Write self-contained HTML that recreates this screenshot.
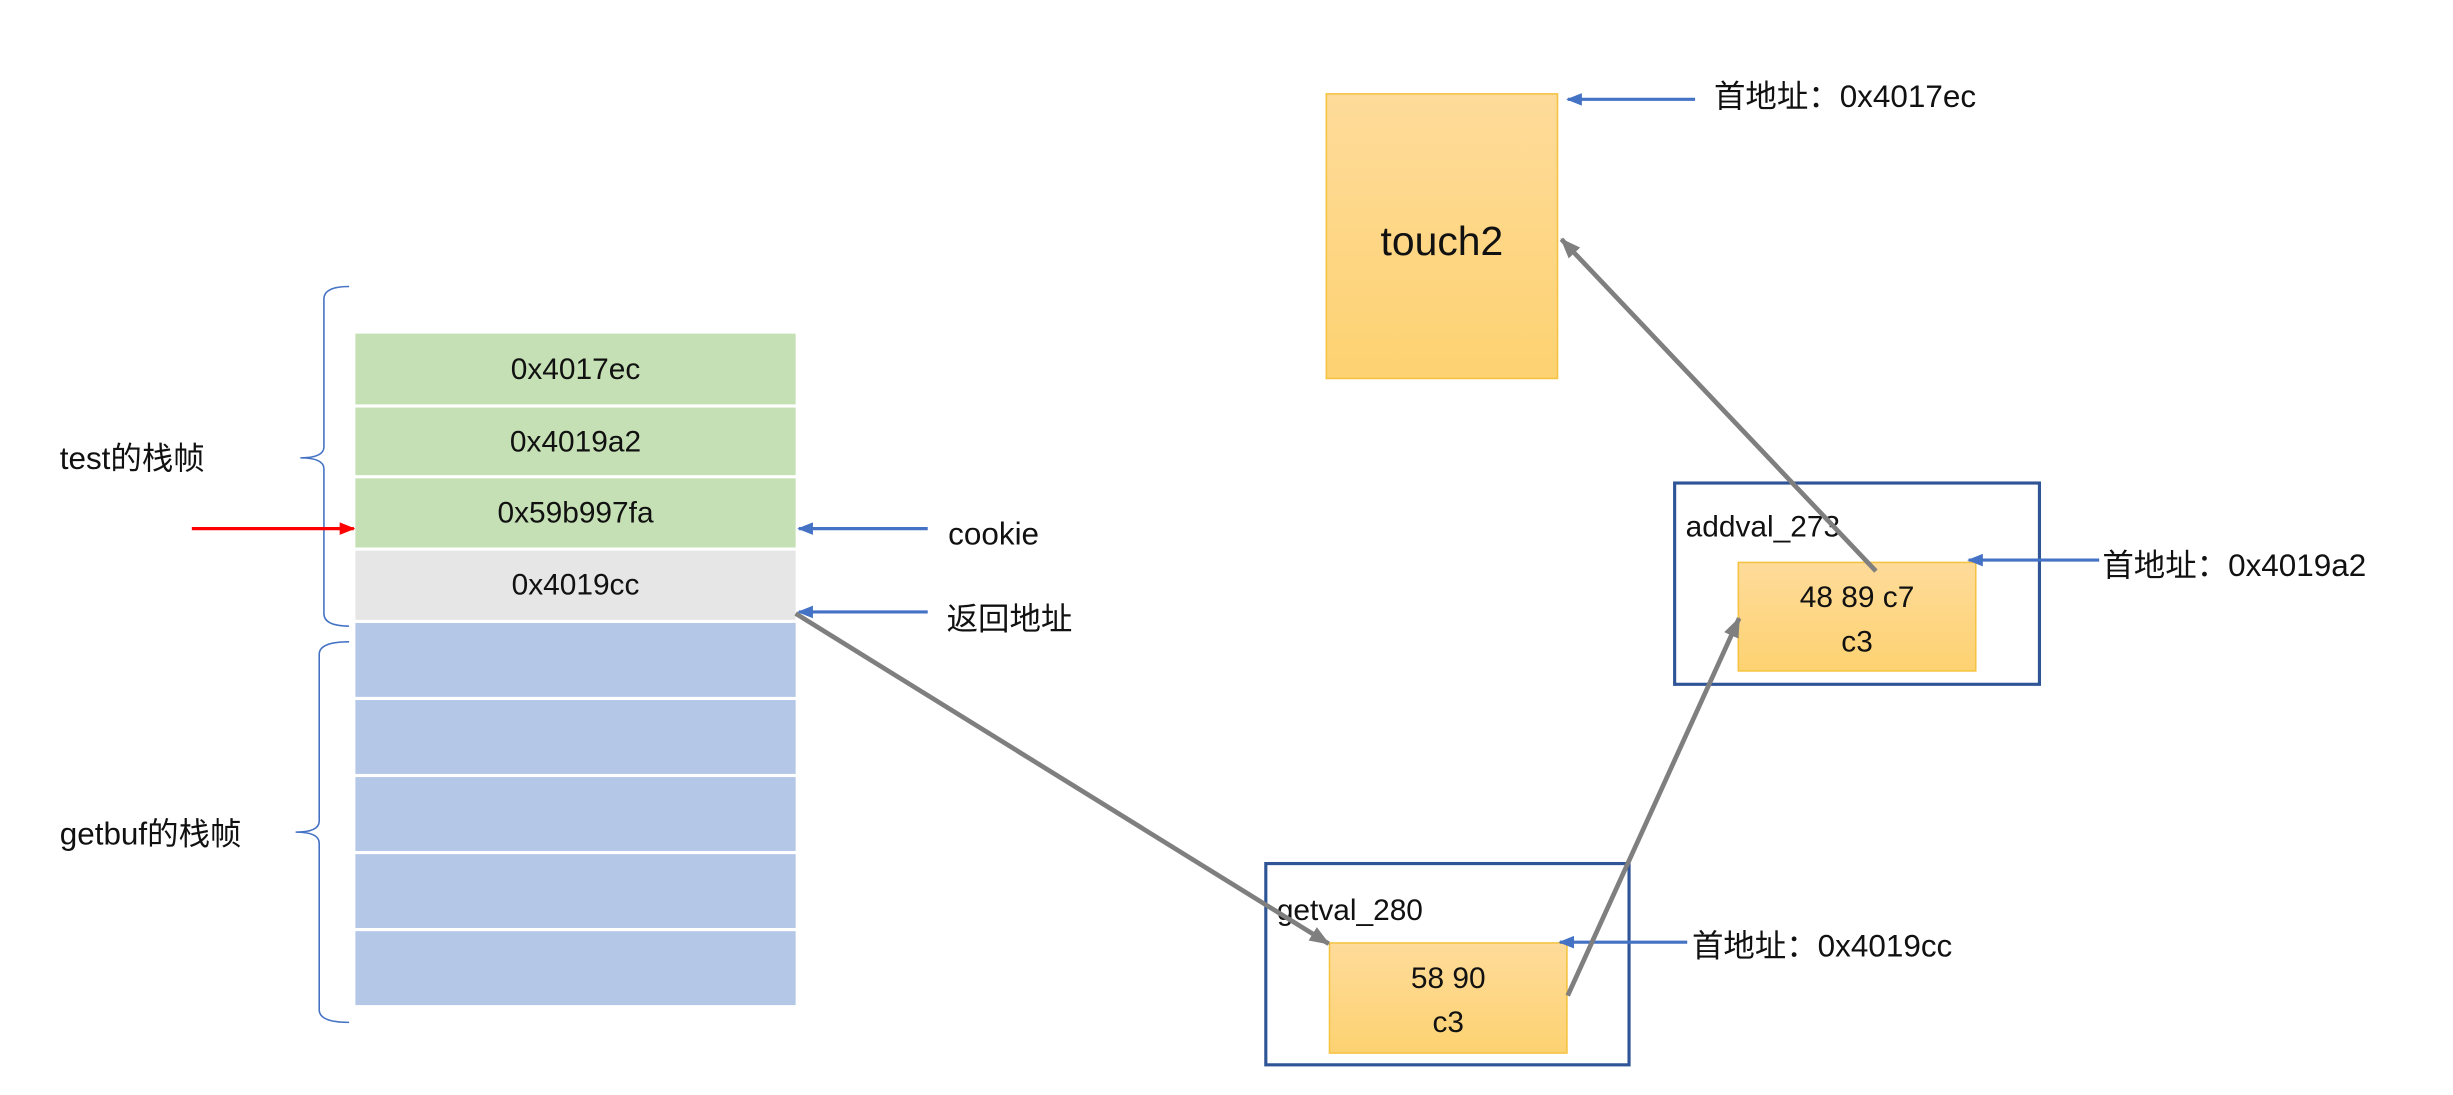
<!DOCTYPE html>
<html><head><meta charset="utf-8"><style>
html,body{margin:0;padding:0;background:#fff;}
svg{display:block;}
text{font-family:"Liberation Sans","Noto Sans CJK SC",sans-serif;fill:#111;}
</style></head><body>
<svg width="2453" height="1095" viewBox="0 0 1560 696" xmlns="http://www.w3.org/2000/svg">
<defs>
<linearGradient id="og" x1="0" y1="0" x2="0" y2="1"><stop offset="0" stop-color="#fedb9a"/><stop offset="1" stop-color="#fdd271"/></linearGradient>
<marker id="ab" markerWidth="10" markerHeight="8" refX="9" refY="4" orient="auto" markerUnits="userSpaceOnUse"><path d="M0,0 L10,4 L0,8 z" fill="#4472c4"/></marker>
<marker id="ar" markerWidth="10" markerHeight="8" refX="9" refY="4" orient="auto" markerUnits="userSpaceOnUse"><path d="M0,0 L10,4 L0,8 z" fill="#ff0000"/></marker>
<marker id="ag" markerWidth="14" markerHeight="10" refX="12" refY="5" orient="auto" markerUnits="userSpaceOnUse"><path d="M0,0 L13,5 L0,10 z" fill="#7f7f7f"/></marker>
</defs>
<!-- stack -->
<rect x="226" y="212" width="280" height="45" fill="#c5e0b4"/>
<rect x="226" y="259" width="280" height="43" fill="#c5e0b4"/>
<rect x="226" y="304" width="280" height="44" fill="#c5e0b4"/>
<rect x="226" y="350" width="280" height="44" fill="#e7e6e6"/>
<rect x="226" y="396" width="280" height="47" fill="#b4c7e7"/>
<rect x="226" y="445" width="280" height="47" fill="#b4c7e7"/>
<rect x="226" y="494" width="280" height="47" fill="#b4c7e7"/>
<rect x="226" y="543" width="280" height="47" fill="#b4c7e7"/>
<rect x="226" y="592" width="280" height="47" fill="#b4c7e7"/>
<g font-size="19" text-anchor="middle">
<text x="366" y="241">0x4017ec</text>
<text x="366" y="287">0x4019a2</text>
<text x="366" y="332">0x59b997fa</text>
<text x="366" y="378">0x4019cc</text>
</g>
<!-- braces -->
<path d="M222,182 Q206,182 206,190 L206,284 Q206,291 191,291 Q206,291 206,298 L206,390 Q206,398 222,398" fill="none" stroke="#4472c4" stroke-width="1"/>
<path d="M222,408 Q203,408 203,416 L203,522 Q203,529 188,529 Q203,529 203,536 L203,642 Q203,650 222,650" fill="none" stroke="#4472c4" stroke-width="1"/>
<text x="38" y="298" font-size="20">test的栈帧</text>
<text x="38" y="537" font-size="20">getbuf的栈帧</text>
<line x1="122" y1="336" x2="225" y2="336" stroke="#ff0000" stroke-width="2" marker-end="url(#ar)"/>
<line x1="590" y1="336" x2="508" y2="336" stroke="#4472c4" stroke-width="2" marker-end="url(#ab)"/>
<line x1="590" y1="389" x2="508" y2="389" stroke="#4472c4" stroke-width="2" marker-end="url(#ab)"/>
<text x="603" y="346" font-size="20">cookie</text>
<text x="602" y="400" font-size="20">返回地址</text>
<!-- touch2 -->
<rect x="843.5" y="59.5" width="147" height="181" fill="url(#og)" stroke="#f5c342" stroke-width="1"/>
<text x="917" y="162" font-size="26" text-anchor="middle">touch2</text>
<line x1="1078" y1="63" x2="997" y2="63" stroke="#4472c4" stroke-width="2" marker-end="url(#ab)"/>
<text x="1090" y="68" font-size="20">首地址：0x4017ec</text>
<!-- addval -->
<rect x="1065" y="307" width="232" height="128" fill="none" stroke="#2f5597" stroke-width="2"/>
<text x="1072" y="341" font-size="19">addval_273</text>
<rect x="1105.5" y="357.5" width="151" height="69" fill="url(#og)" stroke="#f5c342" stroke-width="1"/>
<text x="1181" y="386" font-size="19" text-anchor="middle">48 89 c7</text>
<text x="1181" y="414" font-size="19" text-anchor="middle">c3</text>
<line x1="1335" y1="356" x2="1252" y2="356" stroke="#4472c4" stroke-width="2" marker-end="url(#ab)"/>
<text x="1337" y="366" font-size="20">首地址：0x4019a2</text>
<!-- getval -->
<rect x="805" y="549" width="231" height="128" fill="none" stroke="#2f5597" stroke-width="2"/>
<text x="812" y="585" font-size="19">getval_280</text>
<rect x="845.5" y="599.5" width="151" height="70" fill="url(#og)" stroke="#f5c342" stroke-width="1"/>
<text x="921" y="628" font-size="19" text-anchor="middle">58 90</text>
<text x="921" y="656" font-size="19" text-anchor="middle">c3</text>
<line x1="1073" y1="599" x2="992" y2="599" stroke="#4472c4" stroke-width="2" marker-end="url(#ab)"/>
<text x="1076" y="608" font-size="20">首地址：0x4019cc</text>
<!-- gray connectors -->
<line x1="506" y1="390" x2="845" y2="600" stroke="#7f7f7f" stroke-width="3" marker-end="url(#ag)"/>
<line x1="997" y1="633" x2="1106" y2="393" stroke="#7f7f7f" stroke-width="3" marker-end="url(#ag)"/>
<line x1="1193" y1="363" x2="993" y2="152" stroke="#7f7f7f" stroke-width="3" marker-end="url(#ag)"/>
</svg>
</body></html>
